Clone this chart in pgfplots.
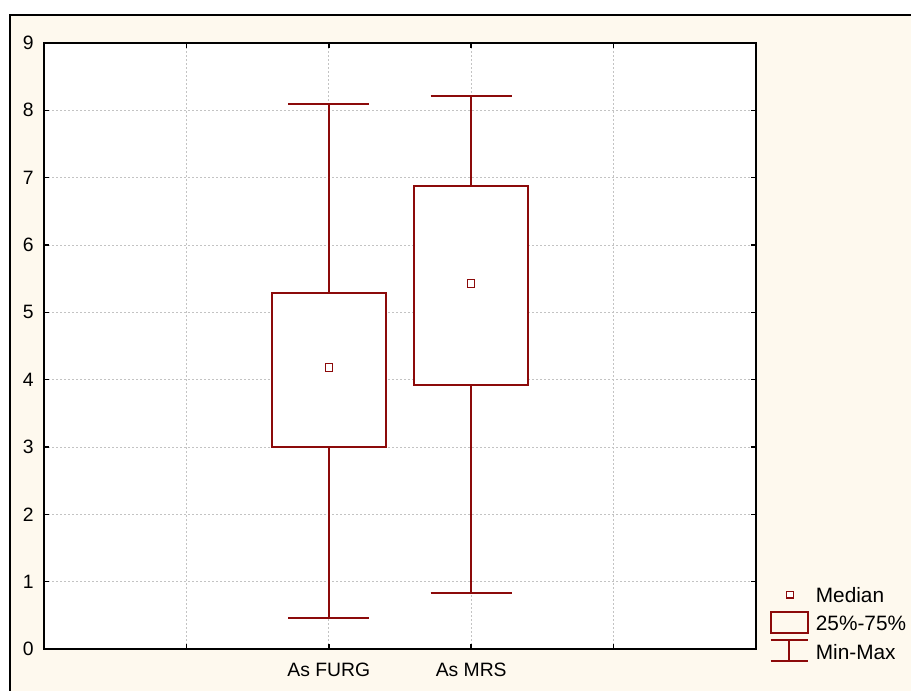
\documentclass[border=0pt]{standalone}
\usepackage{fontspec}
\setmainfont{Liberation Sans}
\usepackage{pgfplots}
\pgfplotsset{compat=1.18}
\usepgfplotslibrary{statistics}
\definecolor{mr}{RGB}{140,10,10}
\definecolor{cream}{RGB}{254,249,238}
\definecolor{gridc}{RGB}{195,195,195}
\begin{document}
\begin{tikzpicture}
\useasboundingbox (0,0) rectangle (683.25pt,518.25pt);
\fill[cream] (7.5pt,0) rectangle (683.25pt,507pt);
\draw[black, line width=1.2pt] (7.5pt,-2pt) -- (7.5pt,507pt) -- (690pt,507pt);
\begin{axis}[
  at={(33pt,31.5pt)}, anchor=south west,
  scale only axis, width=534pt, height=454.5pt,
  xmin=0, xmax=5, ymin=0, ymax=9,
  xtick={1,2,3,4}, xticklabels={,As FURG,As MRS,},
  ytick={0,1,2,3,4,5,6,7,8,9},
  axis background/.style={fill=white},
  axis line style={black, line width=1.1pt},
  tick align=inside, major tick length=3.75pt,
  tick style={black, line width=1.1pt},
  grid=major,
  major grid style={gridc, line width=0.6pt, dash pattern=on 1.5pt off 1.5pt},
  ticklabel style={font=\fontsize{14.5}{17}\selectfont, inner sep=0pt},
  /pgf/number format/assume math mode=true,
  yticklabel style={xshift=-7.5pt},
  xticklabel style={yshift=-10.5pt},
  boxplot/draw direction=y,
  legend style={at={(1.0187,0.1065)}, anchor=north west, draw=none, fill=none,
    font=\fontsize{15.6}{18}\selectfont, inner sep=0pt, row sep=0pt,
    nodes={inner sep=0pt, text height=13.5pt, text depth=6.4pt},
    /tikz/every odd column/.append style={column sep=5.5pt}},
  legend cell align=left,
  clip=false,
]
\addplot[mr, line width=1.5pt, fill=white, forget plot,
  boxplot prepared={lower whisker=0.46, lower quartile=3.0, median=4.18,
    upper quartile=5.29, upper whisker=8.09, draw position=2,
    box extend=0.8, whisker extend=0.57},
  boxplot/draw/median/.code={}] coordinates {};
\addplot[mr, line width=1.5pt, fill=white, forget plot,
  boxplot prepared={lower whisker=0.83, lower quartile=3.92, median=5.43,
    upper quartile=6.88, upper whisker=8.22, draw position=3,
    box extend=0.8, whisker extend=0.57},
  boxplot/draw/median/.code={}] coordinates {};
\addplot[only marks, mark=square*, mark size=2.8pt,
  mark options={fill=white, draw=mr, line width=0.75pt}, forget plot]
  coordinates {(2,4.18) (3,5.43)};
\addlegendimage{legend image code/.code={\draw[mr, line width=0.8pt, fill=white] (11.9pt,0pt) rectangle (17.1pt,5.2pt); \path[draw=none] (0pt,2.6pt) -- (27.75pt,2.6pt);}}
\addlegendentry{Median}
\addlegendimage{legend image code/.code={\draw[mr, line width=1.5pt] (0pt,-5.15pt) rectangle (27.75pt,10.35pt);}}
\addlegendentry{25\%-75\%}
\addlegendimage{legend image code/.code={\draw[mr, line width=1.5pt] (0pt,10.5pt) -- (27.75pt,10.5pt) (13.9pt,10.5pt) -- (13.9pt,-5.3pt) (0pt,-5.3pt) -- (27.75pt,-5.3pt);}}
\addlegendentry{Min-Max}
\end{axis}
\end{tikzpicture}
\end{document}
